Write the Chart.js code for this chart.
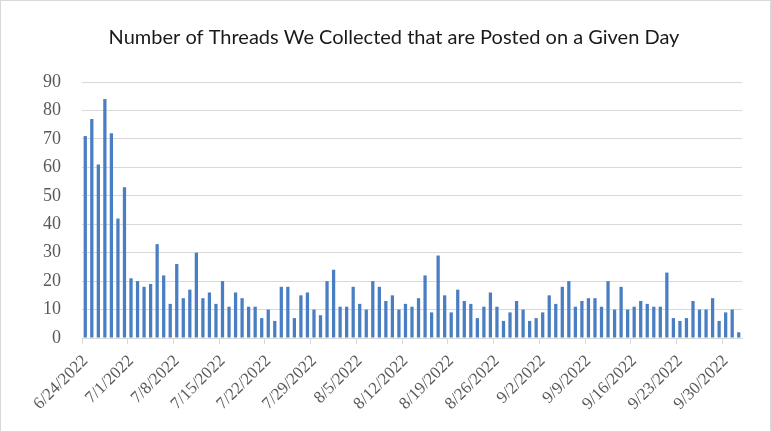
<!DOCTYPE html>
<html>
<head>
<meta charset="utf-8">
<script src="https://cdn.jsdelivr.net/npm/chart.js@4"></script>
<style>
  html, body { margin: 0; padding: 0; background: #fff; }
  #wrap { width: 771px; height: 432px; position: relative; }
</style>
</head>
<body>
<div id="wrap"><canvas id="c" width="771" height="432"></canvas></div>
<script>
// Daily thread counts, 6/24/2022 through 10/2/2022
const startDate = new Date(2022, 5, 24);
const dayCount = 101;
const dates = [];
for (let i = 0; i < dayCount; i++) {
  const d = new Date(startDate.getFullYear(), startDate.getMonth(), startDate.getDate() + i);
  dates.push((d.getMonth() + 1) + '/' + d.getDate() + '/' + d.getFullYear());
}

const threadCounts = [
  71, 77, 61, 84, 72, 42, 53,
  21, 20, 18, 19, 33, 22, 12,
  26, 14, 17, 30, 14, 16, 12,
  20, 11, 16, 14, 11, 11, 7,
  10, 6, 18, 18, 7, 15, 16,
  10, 8, 20, 24, 11, 11, 18,
  12, 10, 20, 18, 13, 15, 10,
  12, 11, 14, 22, 9, 29, 15,
  9, 17, 13, 12, 7, 11, 16,
  11, 6, 9, 13, 10, 6, 7,
  9, 15, 12, 18, 20, 11, 13,
  14, 14, 11, 20, 10, 18, 10,
  11, 13, 12, 11, 11, 23, 7,
  6, 7, 13, 10, 10, 14, 6,
  9, 10, 2
];

// Every seventh day gets a label and a tick mark
const labelEvery = 7;
const yTicks = { min: 0, max: 90, step: 10 };

const chartTitle = 'Number of Threads We Collected that are Posted on a Given Day';

const frame = {
  id: 'frame',
  beforeDraw(chart) {
    const ctx = chart.ctx;
    ctx.save();
    ctx.fillStyle = '#ffffff';
    ctx.fillRect(0, 0, chart.width, chart.height);
    ctx.strokeStyle = '#d9d9d9';
    ctx.lineWidth = 1;
    ctx.strokeRect(0.5, 0.5, chart.width - 1, chart.height - 1);
    ctx.restore();
  }
};

new Chart(document.getElementById('c'), {
  type: 'bar',
  data: {
    labels: dates,
    datasets: [{
      data: threadCounts,
      backgroundColor: '#4a7ec2',
      borderWidth: 0,
      barPercentage: 0.5,
      categoryPercentage: 1.0
    }]
  },
  options: {
    responsive: false,
    animation: false,
    devicePixelRatio: 1,
    layout: { padding: { left: 17, right: 0, top: 0, bottom: 0 } },
    plugins: {
      legend: { display: false },
      tooltip: { enabled: false },
      title: {
        display: true,
        text: chartTitle,
        color: '#1a1a1a',
        font: { family: 'Lato', size: 20, weight: 'normal' },
        padding: { top: 26, bottom: 32 }
      }
    },
    scales: {
      x: {
        offset: true,
        grid: {
          offset: true,
          drawOnChartArea: false,
          drawTicks: true,
          tickLength: 6,
          color: (c) => (c.index % labelEvery === 0 ? '#d9d9d9' : 'rgba(0,0,0,0)')
        },
        border: { display: true, color: '#d9d9d9', width: 1 },
        ticks: {
          autoSkip: false,
          maxRotation: 45,
          minRotation: 45,
          padding: 7,
          color: '#595959',
          font: { family: 'Liberation Serif', size: 17 },
          callback: function (value, index) {
            return index % labelEvery === 0 ? this.getLabelForValue(value) : '';
          }
        },
        afterFit(scale) { scale.height = 94; }
      },
      y: {
        min: yTicks.min,
        max: yTicks.max,
        grid: { color: '#d9d9d9', drawTicks: false },
        border: { display: false },
        ticks: {
          stepSize: yTicks.step,
          padding: 21,
          color: '#595959',
          font: { family: 'Liberation Serif', size: 18 }
        },
        afterFit(scale) { scale.width = 65; }
      },
      // empty right margin keeps the plot clear of the frame
      yRight: {
        position: 'right',
        display: true,
        grid: { display: false, drawOnChartArea: false },
        border: { display: false },
        ticks: { display: false },
        afterFit(scale) { scale.width = 29; }
      }
    }
  },
  plugins: [frame]
});
</script>
</body>
</html>
